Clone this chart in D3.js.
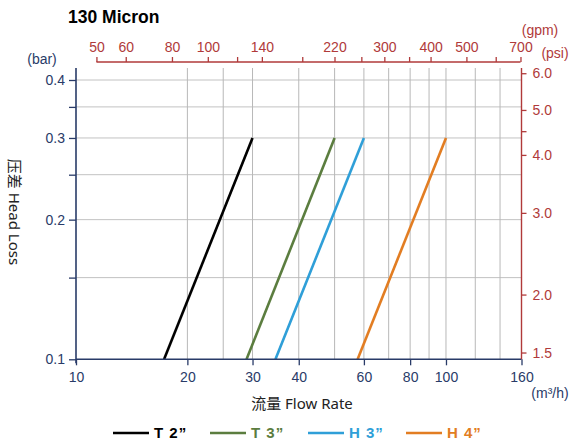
<!DOCTYPE html>
<html><head><meta charset="utf-8">
<script src="https://cdn.jsdelivr.net/npm/d3@7"></script>
<style>
html,body{margin:0;padding:0;background:#fff;}
svg{display:block;}
</style></head>
<body>
<script>
// ---- data ----
const title = "130 Micron";
const seriesNames = ["T 2\u201d", "T 3\u201d", "H 3\u201d", "H 4\u201d"];
const seriesColors = ["#000000", "#5b7d3f", "#2f9fd8", "#e27d22"];
const headLoss = [0.1, 0.3];           // bar
const flowT2 = [17.3, 30];             // m3/h
const flowT3 = [28.9, 50];
const flowH3 = [34.6, 60];
const flowH4 = [57.7, 100];
const seriesFlows = [flowT2, flowT3, flowH3, flowH4];

const xTicks = [10, 20, 30, 40, 60, 80, 100, 160];
const xGrid = [20, 25, 30, 40, 50, 60, 70, 80, 90, 100, 120, 140];
const yTicks = [0.1, 0.15, 0.2, 0.25, 0.3, 0.35, 0.4];
const yLabels = [0.1, 0.2, 0.3, 0.4];
const yGrid = [0.15, 0.2, 0.25, 0.3, 0.35, 0.4];
const psiTicks = [1.5, 2.0, 3.0, 4.0, 4.5, 5.0, 6.0];
const psiLabels = [1.5, 2.0, 3.0, 4.0, 5.0, 6.0];
const gpmTicks = [50, 60, 80, 100, 120, 140, 180, 220, 260, 300, 350, 400, 500, 600, 700];
const gpmLabels = [50, 60, 80, 100, 140, 220, 300, 400, 500, 700];
const BAR_TO_PSI = 14.5038, M3H_TO_GPM = 4.4029;

// ---- layout ----
const W = 572, H = 443;
const pL = 76, pR = 521.5, pB = 359.3, pT = 68;
const navy = "#293b68", red = "#b03a3a", grid = "#c2c2c2";
const font = "'Liberation Sans', Arial, sans-serif";
const font2 = "'Noto Sans', 'Noto Sans CJK SC', sans-serif";

const svg = d3.select("body").append("svg").attr("width", W).attr("height", H);

const x = d3.scaleLog().domain([10, 160]).range([pL, pR]);
const y = d3.scaleLog().domain([0.1, 0.4]).range([pB, 80]);
const xG = d3.scaleLog().domain([10 * M3H_TO_GPM, 160 * M3H_TO_GPM]).range([pL, pR]);
const yP = d3.scaleLog().domain([0.1 * BAR_TO_PSI, 0.4 * BAR_TO_PSI]).range([pB, 80]);

// grid
svg.append("g").selectAll("line").data(yGrid).join("line")
  .attr("x1", pL).attr("x2", pR).attr("y1", d => y(d)).attr("y2", d => y(d))
  .attr("stroke", grid).attr("stroke-width", 1);
svg.append("g").selectAll("line").data(xGrid).join("line")
  .attr("x1", d => x(d)).attr("x2", d => x(d)).attr("y1", pT).attr("y2", pB)
  .attr("stroke", "#b8b8b8").attr("stroke-width", 1);

// series
const line = d3.line().x(d => x(d[0])).y(d => y(d[1]));
seriesFlows.forEach((f, i) => {
  svg.append("path").datum(f.map((v, j) => [v, headLoss[j]]))
    .attr("d", line).attr("fill", "none")
    .attr("stroke", seriesColors[i]).attr("stroke-width", 2.6);
});

// left axis
const gL = svg.append("g").attr("transform", `translate(${pL},0)`);
gL.call(d3.axisLeft(y).tickValues(yTicks).tickSize(7).tickSizeOuter(0)
  .tickFormat(d => yLabels.includes(d) ? d3.format(".1f")(d) : ""));
gL.select(".domain").remove();
gL.append("line").attr("x1", 0).attr("x2", 0).attr("y1", pT).attr("y2", pB + 4)
  .attr("stroke", navy).attr("stroke-width", 1.6);
gL.selectAll(".tick line").attr("stroke", navy).attr("stroke-width", 1.3);
gL.selectAll(".tick text").attr("fill", navy).attr("font-family", font).attr("font-size", 14).attr("dx", -1);

// bottom axis
const gB = svg.append("g").attr("transform", `translate(0,${pB})`);
gB.call(d3.axisBottom(x).tickValues(xTicks).tickSize(6).tickSizeOuter(0).tickFormat(d3.format("d")));
gB.select(".domain").remove();
gB.append("line").attr("x1", pL).attr("x2", pR).attr("y1", 0).attr("y2", 0)
  .attr("stroke", navy).attr("stroke-width", 1.6);
gB.selectAll(".tick line").attr("stroke", navy).attr("stroke-width", 1.3);
gB.selectAll(".tick text").attr("fill", navy).attr("font-family", font).attr("font-size", 14).attr("dy", "0.95em");

// right axis (psi)
const gR = svg.append("g").attr("transform", `translate(${pR},0)`);
gR.call(d3.axisRight(yP).tickValues(psiTicks).tickSize(5).tickSizeOuter(0)
  .tickFormat(d => psiLabels.includes(d) ? d3.format(".1f")(d) : ""));
gR.select(".domain").remove();
gR.append("line").attr("x1", 0).attr("x2", 0).attr("y1", pT).attr("y2", pB)
  .attr("stroke", red).attr("stroke-width", 1.4);
gR.selectAll(".tick line").attr("stroke", red).attr("stroke-width", 1.3);
gR.selectAll(".tick text").attr("fill", red).attr("font-family", font).attr("font-size", 14).attr("dx", 3);

// top axis (gpm)
const topY = 62;
const gT = svg.append("g").attr("transform", `translate(0,${topY})`);
gT.call(d3.axisTop(xG).tickValues(gpmTicks).tickSize(5).tickSizeOuter(0)
  .tickFormat(d => gpmLabels.includes(d) ? d3.format("d")(d) : ""));
gT.select(".domain").remove();
gT.append("line").attr("x1", xG(50)).attr("x2", xG(700)).attr("y1", 0).attr("y2", 0)
  .attr("stroke", red).attr("stroke-width", 1.4);
gT.selectAll(".tick line").attr("stroke", red).attr("stroke-width", 1.3);
gT.selectAll(".tick text").attr("fill", red).attr("font-family", font).attr("font-size", 14).attr("dy", "-0.15em");

// unit labels
const txt = (t, xx, yy, opts = {}) => svg.append("text").text(t).attr("x", xx).attr("y", yy)
  .attr("font-family", opts.ff || font).attr("font-size", opts.fs || 14)
  .attr("fill", opts.fill || "#000").attr("text-anchor", opts.anchor || "middle")
  .attr("font-weight", opts.fw || "normal");
txt("(bar)", 42, 64, {fill: navy});
txt("(gpm)", 540, 35, {fill: red});
txt("(psi)", 555, 58, {fill: red});
txt("(m\u00b3/h)", 550, 398, {fill: navy});

// title
txt(title, 68, 23, {anchor: "start", fs: 17.5, fw: "bold"});

// axis titles
txt("流量 Flow Rate", 302, 409, {ff: font2, fs: 15, fill: "#222"});
svg.append("text").text("压差 Head Loss")
  .attr("transform", "translate(9,212) rotate(90)")
  .attr("text-anchor", "middle").attr("font-family", font2).attr("font-size", 15).attr("fill", "#222");

// legend
const legX = [113, 210, 308, 406];
const legY = 433;
seriesNames.forEach((n, i) => {
  svg.append("line").attr("x1", legX[i]).attr("x2", legX[i] + 36).attr("y1", legY).attr("y2", legY)
    .attr("stroke", seriesColors[i]).attr("stroke-width", 2.6);
  svg.append("text").text(n).attr("x", legX[i] + 41).attr("y", legY + 5)
    .attr("font-family", font).attr("font-size", 15).attr("font-weight", "bold")
    .attr("letter-spacing", 1).attr("fill", seriesColors[i]);
});
</script>
</body></html>
